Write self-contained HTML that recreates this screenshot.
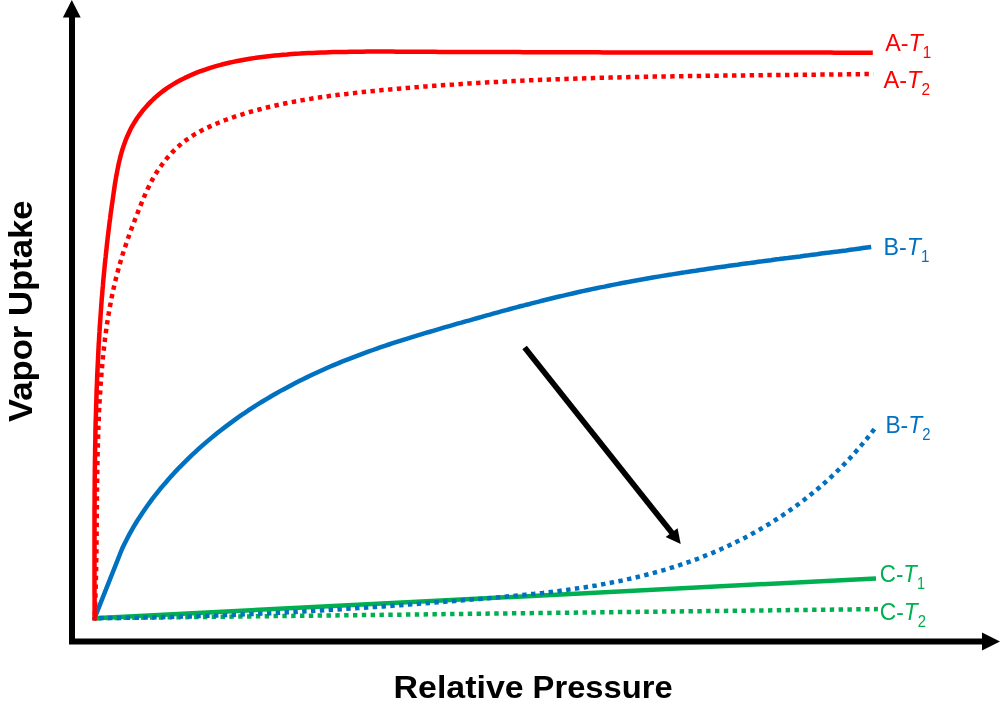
<!DOCTYPE html>
<html><head><meta charset="utf-8"><title>Vapor Uptake vs Relative Pressure</title>
<style>
html,body{margin:0;padding:0;background:#fff;}
body{width:1000px;height:712px;overflow:hidden;font-family:"Liberation Sans",sans-serif;}
svg{display:block;}
.lbl{font-family:"Liberation Sans",sans-serif;font-size:24.6px;}
.ax{font-family:"Liberation Sans",sans-serif;font-weight:bold;font-size:32px;fill:#000;}
</style></head><body>
<svg width="1000" height="712" viewBox="0 0 1000 712">
<rect width="1000" height="712" fill="#fff"/>
<!-- series -->
<g fill="none" stroke-width="4.5" stroke-linejoin="round">
<path d="M94.6,618.2L877.9,609.1" stroke="#00B050" stroke-dasharray="4.42 4.41" stroke-dashoffset="6.5"/>
<path d="M94.6,618.2L876,578.4" stroke="#00B050"/>
<path d="M94.6,618.2L98.8,618.2L103.0,618.1L107.2,618.1L111.4,618.1L115.6,618.0L119.8,618.0L124.0,617.9L128.2,617.8L132.4,617.8L136.6,617.7L140.8,617.6L145.0,617.5L149.2,617.4L153.4,617.4L157.6,617.3L161.8,617.2L166.0,617.1L170.2,617.0L174.4,616.8L178.5,616.7L182.7,616.6L186.9,616.5L191.1,616.4L195.3,616.2L199.5,616.1L203.7,615.9L207.9,615.8L212.1,615.7L216.2,615.5L220.4,615.3L224.6,615.2L228.8,615.0L233.0,614.9L237.2,614.7L241.4,614.5L245.5,614.3L249.7,614.1L253.9,614.0L258.1,613.8L262.3,613.6L266.5,613.4L270.6,613.2L274.8,613.0L279.0,612.7L283.2,612.5L287.4,612.3L291.6,612.1L295.7,611.9L299.9,611.6L304.1,611.4L308.3,611.2L312.5,610.9L316.6,610.7L320.8,610.4L325.0,610.2L329.2,609.9L333.4,609.7L337.5,609.4L341.7,609.2L345.9,608.9L350.1,608.6L354.3,608.4L358.4,608.1L362.6,607.8L366.8,607.5L371.0,607.2L375.2,607.0L379.4,606.7L383.5,606.4L387.7,606.1L391.9,605.8L396.1,605.5L400.3,605.2L404.4,604.9L408.6,604.6L412.8,604.2L417.0,603.9L421.2,603.6L425.4,603.3L429.5,603.0L433.7,602.6L437.9,602.3L442.1,602.0L446.3,601.6L450.5,601.3L454.7,601.0L458.8,600.6L463.0,600.3L467.2,599.9L471.4,599.6L475.6,599.2L479.8,598.9L484.0,598.5L488.2,598.2L492.3,597.8L496.5,597.4L500.7,597.1L504.9,596.7L509.1,596.3L513.3,595.9L517.5,595.5L521.7,595.1L525.8,594.7L530.0,594.2L534.2,593.8L538.4,593.3L542.6,592.9L546.7,592.4L550.9,591.9L555.1,591.4L559.2,590.9L563.4,590.3L567.6,589.8L571.7,589.2L575.9,588.6L580.0,588.0L584.1,587.4L588.3,586.7L592.4,586.0L596.5,585.4L600.7,584.6L604.8,583.9L608.9,583.1L613.0,582.3L617.1,581.5L621.2,580.7L625.3,579.8L629.4,578.9L633.4,578.0L637.5,577.0L641.6,576.0L645.6,575.0L649.7,574.0L653.7,572.9L657.7,571.8L661.8,570.6L665.8,569.5L669.8,568.2L673.8,567.0L677.8,565.7L681.7,564.4L685.7,563.0L689.7,561.7L693.6,560.2L697.5,558.8L701.4,557.3L705.3,555.7L709.2,554.2L713.1,552.6L716.9,550.9L720.8,549.2L724.6,547.5L728.4,545.8L732.2,544.0L736.0,542.1L739.7,540.3L743.5,538.4L747.2,536.4L750.9,534.4L754.6,532.4L758.2,530.4L761.9,528.3L765.5,526.1L769.1,524.0L772.6,521.8L776.2,519.5L779.7,517.2L783.2,514.9L786.7,512.6L790.1,510.2L793.5,507.8L796.9,505.3L800.3,502.8L803.6,500.3L806.9,497.7L810.2,495.1L813.5,492.4L816.7,489.8L819.9,487.0L823.0,484.3L826.2,481.5L829.3,478.7L832.3,475.8L835.4,472.9L838.4,470.0L841.3,467.1L844.3,464.1L847.2,461.0L850.1,458.0L852.9,454.9L855.7,451.8L858.5,448.6L861.2,445.4L863.9,442.2L866.6,439.0L869.2,435.7L871.8,432.4L874.4,429.1L876.9,425.7" stroke="#0070C0" stroke-dasharray="4.42 4.41" stroke-dashoffset="4.2"/>
<path d="M93.8,620.2L122.0,549.0L123.8,545.2L125.7,541.4L127.6,537.7L129.6,533.9L131.6,530.3L133.7,526.6L135.9,523.0L138.1,519.4L140.4,515.9L142.7,512.4L145.1,508.9L147.5,505.5L150.0,502.1L152.5,498.7L155.1,495.4L157.7,492.1L160.3,488.8L163.0,485.6L165.8,482.4L168.5,479.2L171.4,476.0L174.2,472.9L177.1,469.9L180.0,466.8L183.0,463.8L186.0,460.8L189.0,457.9L192.1,454.9L195.2,452.1L198.3,449.2L201.4,446.4L204.6,443.6L207.8,440.9L211.1,438.1L214.3,435.5L217.6,432.8L220.9,430.2L224.3,427.6L227.6,425.1L231.0,422.6L234.4,420.1L237.8,417.6L241.3,415.2L244.8,412.9L248.2,410.5L251.8,408.2L255.3,405.9L258.9,403.7L262.4,401.5L266.0,399.3L269.6,397.2L273.3,395.0L276.9,393.0L280.6,390.9L284.3,388.9L288.0,386.9L291.7,384.9L295.4,383.0L299.2,381.1L302.9,379.2L306.7,377.4L310.5,375.5L314.3,373.7L318.1,372.0L322.0,370.2L325.8,368.5L329.7,366.8L333.6,365.2L337.4,363.6L341.3,361.9L345.2,360.4L349.2,358.8L353.1,357.3L357.0,355.8L361.0,354.3L364.9,352.8L368.9,351.4L372.9,350.0L376.8,348.6L380.8,347.2L384.8,345.8L388.8,344.5L392.8,343.2L396.8,341.9L400.8,340.6L404.9,339.3L408.9,338.1L412.9,336.8L416.9,335.6L421.0,334.4L425.0,333.2L429.1,332.0L433.1,330.8L437.2,329.6L441.2,328.4L445.3,327.2L449.3,326.1L453.4,324.9L457.4,323.7L461.5,322.6L465.5,321.4L469.6,320.3L473.7,319.1L477.7,318.0L481.8,316.8L485.8,315.7L489.9,314.6L494.0,313.4L498.0,312.3L502.1,311.2L506.2,310.1L510.2,309.0L514.3,307.9L518.4,306.8L522.5,305.8L526.5,304.7L530.6,303.7L534.7,302.6L538.8,301.6L542.9,300.5L547.0,299.5L551.1,298.5L555.1,297.5L559.2,296.5L563.3,295.6L567.4,294.6L571.5,293.7L575.6,292.7L579.8,291.8L583.9,290.9L588.0,290.0L592.1,289.1L596.2,288.3L600.3,287.4L604.5,286.6L608.6,285.7L612.7,284.9L616.9,284.1L621.0,283.3L625.1,282.5L629.3,281.8L633.4,281.0L637.5,280.2L641.7,279.5L645.8,278.8L650.0,278.0L654.1,277.3L658.3,276.6L662.5,275.9L666.6,275.2L670.8,274.6L674.9,273.9L679.1,273.2L683.3,272.6L687.4,271.9L691.6,271.3L695.8,270.7L699.9,270.0L704.1,269.4L708.3,268.8L712.4,268.2L716.6,267.6L720.8,267.0L725.0,266.4L729.1,265.8L733.3,265.2L737.5,264.7L741.7,264.1L745.8,263.5L750.0,263.0L754.2,262.4L758.4,261.8L762.6,261.3L766.7,260.7L770.9,260.2L775.1,259.6L779.3,259.1L783.5,258.5L787.7,258.0L791.8,257.4L796.0,256.9L800.2,256.4L804.4,255.8L808.6,255.3L812.7,254.7L816.9,254.2L821.1,253.6L825.3,253.1L829.5,252.6L833.6,252.0L837.8,251.5L842.0,250.9L846.2,250.4L850.3,249.8L854.5,249.3L858.7,248.7L862.9,248.1L867.0,247.6L871.2,247.0" stroke="#0070C0"/>
<path d="M94.8,620.4L94.6,618.2L94.8,614.2L94.9,610.2L95.1,606.2L95.2,602.2L95.4,598.2L95.5,594.2L95.6,590.3L95.7,586.3L95.8,582.3L95.9,578.3L96.0,574.3L96.1,570.3L96.2,566.3L96.2,562.3L96.3,558.3L96.4,554.3L96.4,550.3L96.5,546.3L96.5,542.3L96.5,538.3L96.6,534.3L96.6,530.3L96.7,526.3L96.7,522.3L96.7,518.3L96.8,514.3L96.8,510.3L96.9,506.3L96.9,502.3L96.9,498.3L97.0,494.3L97.0,490.3L97.1,486.3L97.1,482.3L97.2,478.3L97.2,474.3L97.3,470.3L97.4,466.3L97.4,462.4L97.5,458.4L97.6,454.4L97.7,450.4L97.8,446.4L97.9,442.4L98.0,438.4L98.2,434.4L98.3,430.4L98.4,426.4L98.6,422.4L98.8,418.4L98.9,414.4L99.1,410.4L99.3,406.4L99.5,402.4L99.8,398.5L100.0,394.5L100.3,390.5L100.5,386.5L100.8,382.5L101.1,378.5L101.4,374.5L101.7,370.5L102.1,366.6L102.5,362.6L102.8,358.6L103.2,354.6L103.7,350.6L104.1,346.7L104.6,342.7L105.0,338.7L105.6,334.7L106.1,330.8L106.6,326.8L107.2,322.9L107.8,318.9L108.5,315.0L109.1,311.0L109.8,307.1L110.6,303.2L111.3,299.3L112.1,295.4L112.9,291.5L113.8,287.6L114.7,283.7L115.6,279.8L116.6,275.9L117.6,272.1L118.6,268.2L119.7,264.4L120.8,260.6L121.9,256.8L123.1,252.9L124.3,249.2L125.6,245.4L126.9,241.6L128.2,237.8L129.6,234.0L130.9,230.3L132.3,226.5L133.8,222.8L135.2,219.0L136.7,215.3L138.1,211.6L139.6,207.8L141.1,204.1L142.6,200.4L144.2,196.7L145.8,193.0L147.5,189.3L149.2,185.7L151.0,182.2L152.9,178.6L154.9,175.2L157.0,171.8L159.2,168.4L161.5,165.2L163.9,162.0L166.4,158.9L169.0,155.9L171.7,152.9L174.4,150.1L177.3,147.4L180.3,144.7L183.3,142.2L186.5,139.8L189.7,137.6L193.0,135.4L196.4,133.4L199.9,131.4L203.5,129.6L207.0,127.8L210.7,126.1L214.3,124.5L218.0,123.0L221.7,121.5L225.5,120.0L229.2,118.6L233.0,117.3L236.8,116.0L240.7,114.8L244.5,113.6L248.4,112.4L252.2,111.3L256.1,110.3L260.0,109.3L263.9,108.3L267.8,107.3L271.7,106.4L275.6,105.5L279.5,104.6L283.4,103.8L287.3,103.0L291.2,102.2L295.2,101.5L299.1,100.8L303.0,100.1L307.0,99.4L310.9,98.8L314.8,98.1L318.8,97.5L322.7,97.0L326.7,96.4L330.6,95.8L334.6,95.3L338.6,94.8L342.5,94.3L346.5,93.9L350.4,93.4L354.4,93.0L358.4,92.5L362.3,92.1L366.3,91.7L370.3,91.3L374.3,90.9L378.2,90.5L382.2,90.1L386.2,89.8L390.2,89.4L394.1,89.1L398.1,88.7L402.1,88.4L406.1,88.0L410.1,87.7L414.0,87.4L418.0,87.1L422.0,86.7L426.0,86.4L430.0,86.1L433.9,85.8L437.9,85.6L441.9,85.3L445.9,85.0L449.9,84.7L453.9,84.5L457.9,84.2L461.8,83.9L465.8,83.7L469.8,83.4L473.8,83.2L477.8,83.0L481.8,82.7L485.8,82.5L489.8,82.3L493.8,82.1L497.7,81.9L501.7,81.7L505.7,81.5L509.7,81.3L513.7,81.1L517.7,80.9L521.7,80.7L525.7,80.5L529.7,80.3L533.7,80.2L537.7,80.0L541.7,79.8L545.7,79.7L549.7,79.5L553.6,79.4L557.6,79.2L561.6,79.1L565.6,78.9L569.6,78.8L573.6,78.7L577.6,78.5L581.6,78.4L585.6,78.3L589.6,78.2L593.6,78.0L597.6,77.9L601.6,77.8L605.6,77.7L609.6,77.6L613.6,77.5L617.6,77.4L621.6,77.3L625.6,77.2L629.6,77.1L633.6,77.0L637.6,77.0L641.6,76.9L645.6,76.8L649.6,76.7L653.6,76.6L657.6,76.6L661.6,76.5L665.6,76.4L669.6,76.4L673.6,76.3L677.6,76.2L681.6,76.2L685.6,76.1L689.6,76.0L693.6,76.0L697.6,75.9L701.6,75.9L705.6,75.8L709.6,75.8L713.6,75.7L717.6,75.7L721.6,75.6L725.6,75.6L729.6,75.5L733.6,75.5L737.6,75.4L741.6,75.4L745.6,75.4L749.6,75.3L753.6,75.3L757.6,75.2L761.6,75.2L765.6,75.1L769.6,75.1L773.6,75.1L777.6,75.0L781.6,75.0L785.6,75.0L789.5,74.9L793.5,74.9L797.5,74.8L801.5,74.8L805.5,74.8L809.5,74.7L813.5,74.7L817.5,74.6L821.5,74.6L825.5,74.6L829.5,74.5L833.5,74.5L837.5,74.4L841.5,74.4L845.5,74.3L849.5,74.3L853.4,74.2L857.4,74.2L861.4,74.2L865.4,74.1L869.4,74.1L873.4,74.0" stroke="#FF0000" stroke-dasharray="4.42 4.41" stroke-dashoffset="3.8"/>
<path d="M94.6,620.4L94.6,618.2L94.6,614.0L94.6,609.7L94.6,605.5L94.6,601.3L94.6,597.1L94.5,592.8L94.5,588.6L94.5,584.4L94.5,580.2L94.5,576.0L94.5,571.7L94.5,567.5L94.5,563.3L94.5,559.1L94.5,554.9L94.5,550.6L94.5,546.4L94.5,542.2L94.5,538.0L94.5,533.8L94.5,529.6L94.5,525.4L94.5,521.1L94.5,516.9L94.5,512.7L94.5,508.5L94.6,504.3L94.6,500.1L94.6,495.9L94.6,491.7L94.7,487.5L94.7,483.2L94.7,479.0L94.8,474.8L94.8,470.6L94.9,466.4L94.9,462.2L95.0,458.0L95.1,453.8L95.1,449.6L95.2,445.4L95.3,441.2L95.4,437.0L95.4,432.8L95.5,428.6L95.6,424.4L95.7,420.2L95.9,416.0L96.0,411.8L96.1,407.6L96.2,403.3L96.4,399.1L96.5,394.9L96.6,390.7L96.8,386.5L97.0,382.3L97.1,378.1L97.3,373.9L97.5,369.7L97.7,365.5L97.9,361.3L98.1,357.1L98.3,352.9L98.5,348.7L98.7,344.5L99.0,340.3L99.2,336.1L99.5,331.9L99.7,327.7L100.0,323.5L100.3,319.3L100.6,315.1L100.9,310.9L101.2,306.7L101.5,302.5L101.8,298.3L102.2,294.1L102.5,289.9L102.9,285.7L103.2,281.5L103.6,277.3L104.0,273.1L104.4,268.9L104.8,264.7L105.2,260.5L105.7,256.4L106.1,252.2L106.6,247.9L107.0,243.7L107.5,239.5L108.0,235.3L108.5,231.1L109.0,226.9L109.5,222.7L110.1,218.5L110.6,214.3L111.2,210.1L111.8,205.9L112.4,201.7L113.0,197.5L113.6,193.3L114.2,189.1L114.8,184.9L115.5,180.7L116.2,176.5L117.0,172.4L117.8,168.2L118.6,164.1L119.6,160.0L120.6,155.9L121.7,151.9L122.9,147.9L124.3,144.0L125.7,140.1L127.3,136.2L129.0,132.5L130.8,128.7L132.8,125.1L135.0,121.5L137.2,118.0L139.7,114.6L142.2,111.3L144.9,108.1L147.7,104.9L150.6,101.9L153.6,99.0L156.7,96.2L159.9,93.5L163.3,90.9L166.7,88.4L170.2,86.1L173.8,83.9L177.4,81.8L181.1,79.8L184.9,77.9L188.8,76.1L192.7,74.3L196.6,72.7L200.6,71.2L204.6,69.8L208.7,68.4L212.7,67.1L216.8,65.9L220.9,64.8L225.0,63.8L229.1,62.8L233.2,61.9L237.3,61.0L241.5,60.2L245.6,59.5L249.7,58.8L253.9,58.1L258.0,57.5L262.2,57.0L266.4,56.5L270.5,56.0L274.7,55.6L278.9,55.2L283.0,54.8L287.2,54.5L291.4,54.1L295.6,53.8L299.8,53.6L304.0,53.3L308.2,53.1L312.4,52.9L316.6,52.7L320.8,52.5L325.0,52.4L329.2,52.2L333.4,52.1L337.6,52.0L341.8,51.9L346.0,51.9L350.2,51.8L354.5,51.7L358.7,51.7L362.9,51.7L367.1,51.6L371.3,51.6L375.5,51.6L379.8,51.6L384.0,51.6L388.2,51.6L392.4,51.6L396.7,51.7L400.9,51.7L405.1,51.7L409.3,51.7L413.5,51.7L417.8,51.8L422.0,51.8L426.2,51.8L430.4,51.8L434.6,51.8L438.9,51.9L443.1,51.9L447.3,51.9L451.5,51.9L455.7,51.9L459.9,51.9L464.2,52.0L468.4,52.0L472.6,52.0L476.8,52.0L481.0,52.0L485.2,52.0L489.5,52.1L493.7,52.1L497.9,52.1L502.1,52.1L506.3,52.1L510.5,52.1L514.7,52.1L519.0,52.1L523.2,52.2L527.4,52.2L531.6,52.2L535.8,52.2L540.0,52.2L544.2,52.2L548.4,52.2L552.7,52.2L556.9,52.3L561.1,52.3L565.3,52.3L569.5,52.3L573.7,52.3L577.9,52.3L582.1,52.3L586.3,52.3L590.6,52.3L594.8,52.3L599.0,52.3L603.2,52.4L607.4,52.4L611.6,52.4L615.8,52.4L620.0,52.4L624.2,52.4L628.4,52.4L632.7,52.4L636.9,52.4L641.1,52.4L645.3,52.4L649.5,52.4L653.7,52.4L657.9,52.4L662.1,52.5L666.3,52.5L670.5,52.5L674.8,52.5L679.0,52.5L683.2,52.5L687.4,52.5L691.6,52.5L695.8,52.5L700.0,52.5L704.2,52.5L708.4,52.5L712.7,52.5L716.9,52.5L721.1,52.5L725.3,52.5L729.5,52.5L733.7,52.5L737.9,52.5L742.1,52.6L746.3,52.6L750.6,52.6L754.8,52.6L759.0,52.6L763.2,52.6L767.4,52.6L771.6,52.6L775.8,52.6L780.0,52.6L784.3,52.6L788.5,52.6L792.7,52.6L796.9,52.6L801.1,52.6L805.3,52.6L809.5,52.6L813.8,52.6L818.0,52.6L822.2,52.6L826.4,52.6L830.6,52.6L834.8,52.7L839.1,52.7L843.3,52.7L847.5,52.7L851.7,52.7L855.9,52.7L860.1,52.7L864.4,52.7L868.6,52.7L872.8,52.7" stroke="#FF0000"/>
</g>
<!-- axes -->
<path d="M72,17V641.5H983" fill="none" stroke="#000" stroke-width="6" stroke-linejoin="miter"/>
<path d="M71.8,0L80.7,17.6H62.9Z" fill="#000"/>
<path d="M1000,641.5L982,632.6V650.4Z" fill="#000"/>
<!-- trend arrow -->
<path d="M524.6,347.6L672.5,533.6" stroke="#000" stroke-width="5.7" fill="none"/>
<path d="M680.7,543.9L665.6,536.9L677.6,528.2Z" fill="#000"/>
<!-- labels -->
<g class="lbl">
<text transform="translate(885.2,51.1) scale(0.948,1)" fill="#FF0000">A-<tspan font-style="italic">T</tspan><tspan font-size="16" dy="6.8">1</tspan></text>
<text transform="translate(883.5,87.9) scale(0.96,1)" fill="#FF0000">A-<tspan font-style="italic">T</tspan><tspan font-size="16" dy="6.8">2</tspan></text>
<text transform="translate(883.5,254.8) scale(0.946,1)" fill="#0070C0">B-<tspan font-style="italic">T</tspan><tspan font-size="16" dy="6.8">1</tspan></text>
<text transform="translate(885.4,432.8) scale(0.928,1)" fill="#0070C0">B-<tspan font-style="italic">T</tspan><tspan font-size="16" dy="6.8">2</tspan></text>
<text transform="translate(879.8,581.7) scale(0.908,1)" fill="#00B050">C-<tspan font-style="italic">T</tspan><tspan font-size="16" dy="6.8">1</tspan></text>
<text transform="translate(879.8,619.9) scale(0.927,1)" fill="#00B050">C-<tspan font-style="italic">T</tspan><tspan font-size="16" dy="6.8">2</tspan></text>
</g>
<text class="ax" x="393.6" y="697.6" textLength="130" lengthAdjust="spacingAndGlyphs">Relative</text>
<text class="ax" x="532.6" y="697.6" textLength="140" lengthAdjust="spacingAndGlyphs">Pressure</text>
<text class="ax" transform="translate(32,422) rotate(-90)" textLength="221.5" lengthAdjust="spacingAndGlyphs" style="font-size:33px">Vapor Uptake</text>
</svg>
</body></html>
